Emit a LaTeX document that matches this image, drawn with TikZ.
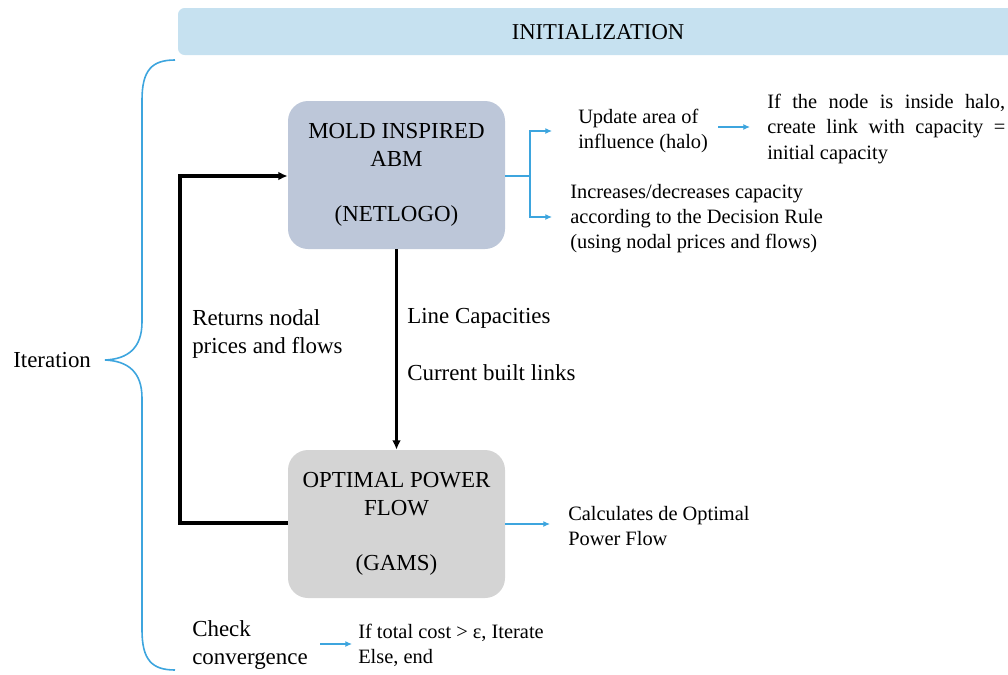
\documentclass[tikz,border=0pt]{standalone}
\usepackage{fontspec}
\setmainfont{Liberation Serif}
\usetikzlibrary{arrows.meta}
\definecolor{bannerblue}{HTML}{C6E1F0}
\definecolor{moldfill}{HTML}{BDC7D9}
\definecolor{opffill}{HTML}{D4D4D4}
\definecolor{linkblue}{HTML}{3DA5DE}
\tikzset{
  bigtxt/.style={inner sep=0pt, align=left, font=\fontsize{17.2}{20.5}\selectfont},
  smalltxt/.style={inner sep=0pt, align=left, font=\fontsize{15.3}{18.8}\selectfont},
  procbox/.style={rounded corners=15pt, minimum width=162.75pt, minimum height=111pt, inner sep=0pt, align=center, font=\fontsize{17.2}{20.6}\selectfont},
  blackarrow/.style={line width=2.3pt, -{Latex[length=7pt,width=6.5pt]}},
  bluearrow/.style={draw=linkblue, line width=0.9pt, -{Latex[length=5pt,width=4.5pt]}},
}
\begin{document}
\begin{tikzpicture}[x=0.75pt,y=-0.75pt]
\useasboundingbox (0,0) rectangle (1008,675);
% banner
\fill[bannerblue, rounded corners=5pt] (178,8) rectangle (1020,55);
\node[inner sep=0pt, font=\fontsize{17}{20}\selectfont] (init) at (598,32) {INITIALIZATION};
% brace
\draw[linkblue, line width=1.2pt] (175,60) .. controls (152,60) and (142,70) .. (142,100) -- (142,322) .. controls (142,348) and (128,359) .. (105,360) .. controls (128,361) and (142,372) .. (142,398) -- (142,630) .. controls (142,660) and (152,670) .. (175,670);
\node[bigtxt, anchor=west] (iter) at (13,360) {Iteration};
% process boxes
\node[procbox, fill=moldfill] (mold) at (396.5,175) {MOLD INSPIRED\\ABM\\[20.6pt](NETLOGO)};
\node[procbox, fill=opffill] (opf) at (396.5,524) {OPTIMAL POWER\\FLOW\\[20.6pt](GAMS)};
% black arrows
\draw[blackarrow] (mold.south) -- (opf.north);
\coordinate (fbl) at (180,523);
\coordinate (ful) at (180,176);
\draw[blackarrow] (opf.west |- fbl) -- (fbl) -- (ful) -- (mold.west |- ful);
\node[bigtxt, anchor=west] (ret) at (192,334) {Returns nodal\\prices and flows};
\node[bigtxt, anchor=west] (lc) at (407,318) {Line Capacities};
\node[bigtxt, anchor=west] (cbl) at (407,373) {Current built links};
% MOLD outputs
\node[smalltxt, anchor=west] (upd) at (578,131) {Update area of\\influence (halo)};
\node[smalltxt, anchor=west] (halo) at (767,129) {\makebox[178.5pt][s]{If the node is inside halo,}\\\makebox[178.5pt][s]{create link with capacity =}\\initial capacity};
\node[smalltxt, anchor=west] (incr) at (570,219) {Increases/decreases capacity\\according to the Decision Rule\\(using nodal prices and flows)};
\coordinate (br) at (530,176);
\coordinate (brt) at (530,131);
\coordinate (brb) at (530,217);
\draw[linkblue, line width=0.9pt] (mold.east |- br) -- (br);
\draw[bluearrow] (br) -- (brt) -- (552,131);
\draw[bluearrow] (br) -- (brb) -- (552,217);
\coordinate (ha) at (718,127);
\draw[bluearrow] (ha) -- (750,127);
% OPF output
\node[smalltxt, anchor=west] (calc) at (568,526) {Calculates de Optimal\\Power Flow};
\coordinate (oa) at (550,524);
\draw[bluearrow] (opf.east |- oa) -- (oa);
% convergence
\node[bigtxt, anchor=west] (check) at (192,645) {Check\\convergence};
\node[smalltxt, anchor=west] (cost) at (358,645) {If total cost > ε, Iterate\\Else, end};
\coordinate (ca) at (320,644);
\draw[bluearrow] (ca) -- (352,644);
\end{tikzpicture}
\end{document}
